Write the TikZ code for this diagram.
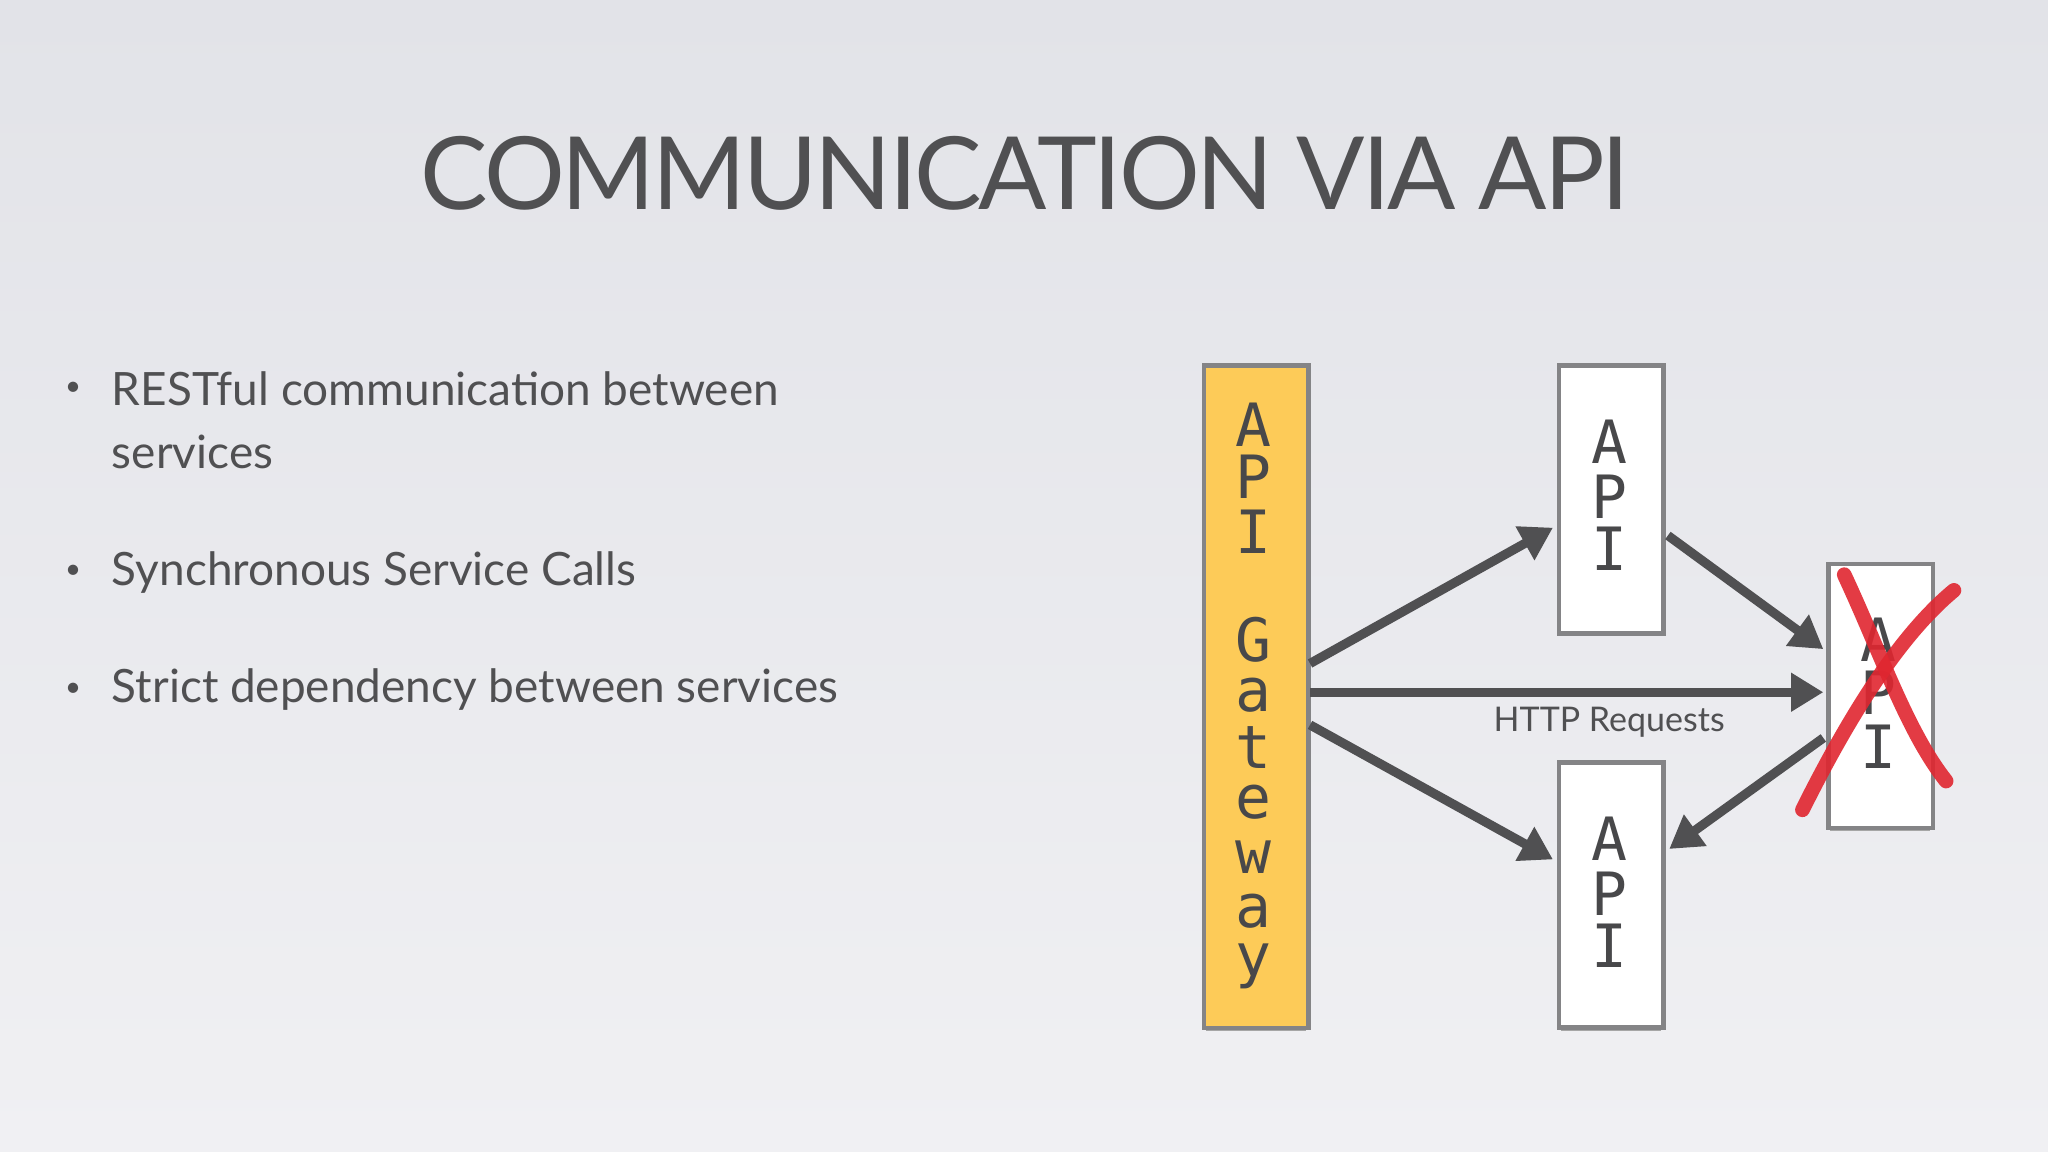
\documentclass[tikz,border=0pt]{standalone}
\usepackage{fontspec}
\setmainfont{Lato}
\setmonofont{DejaVu Sans Mono}
\usetikzlibrary{arrows.meta}
\definecolor{bgA}{HTML}{E2E3E8}
\definecolor{bgB}{HTML}{F0F0F3}
\definecolor{ink}{HTML}{505052}
\definecolor{gold}{HTML}{FDCB58}
\definecolor{xred}{HTML}{E02630}
\tikzset{
  box/.style={draw=ink!70, line width=1pt, minimum width=0.8cm, anchor=north west, inner sep=0pt},
  conn/.style={draw=ink, line width=2pt, -{Triangle[length=7pt,width=8pt]}},
  letters/.style={font=\ttfamily\fontsize{13}{15}\selectfont, text=ink!90!black, align=center, inner sep=0pt},
}
\begin{document}
\begin{tikzpicture}[x=0.01cm,y=-0.01cm]
\shade[top color=bgA, bottom color=bgB] (0,0) rectangle (1568,882);
\useasboundingbox (0,0) rectangle (1568,882);
\node[text=ink, font=\fontsize{22}{26}\selectfont\addfontfeatures{LetterSpace=-3}] (title) at (785,133) {COMMUNICATION VIA API};
\begin{scope}[every node/.style={anchor=west, text=ink, inner sep=0pt, font=\fontsize{10}{14}\selectfont}]
\node (b1) at (85,298) {RESTful communication between};
\node (b1b) at (85,346) {services};
\node (b2) at (85,438) {Synchronous Service Calls};
\node (b3) at (85,528) {Strict dependency between services};
\end{scope}
\begin{scope}[every node/.style={anchor=center, text=ink, inner sep=0pt, font=\fontsize{6}{8}\selectfont}]
\node (d1) at (56,298) {•};
\node (d2) at (56,438) {•};
\node (d3) at (56,528) {•};
\end{scope}
% shadows
\foreach \x/\y/\h in {920/278/507,1192/278/205,1192/582/203,1398/430/202}
  \fill[black!35] (\x+3,\y+\h-2) rectangle (\x+80,\y+\h+4);
\node[box, fill=gold, minimum height=5.07cm] (gw) at (920,278) {};
\node[box, fill=white, minimum height=2.05cm] (api1) at (1192,278) {};
\node[box, fill=white, minimum height=2.03cm] (api2) at (1192,582) {};
\node[box, fill=white, minimum height=2.02cm] (api3) at (1398,430) {};
\foreach \c/\y in {A/325,P/365,I/407,G/490,a/532,t/572,e/614,w/656,a/698,y/740}
  \node[letters] at (960,\y) {\c};
\foreach \c/\y in {A/338,P/380,I/420} \node[letters] at (1232,\y) {\c};
\foreach \c/\y in {A/642,P/684,I/724} \node[letters] at (1232,\y) {\c};
\foreach \c/\y in {A/490,P/530,I/572} \node[letters] at (1438,\y) {\c};
\coordinate (g1) at (1003,508); \coordinate (g2) at (1003,530); \coordinate (g3) at (1003,555);
\coordinate (a1in) at (1189,404); \coordinate (a1out) at (1277,410);
\coordinate (a3in1) at (1396,497); \coordinate (a3in2) at (1396,530); \coordinate (a3out) at (1396,565);
\coordinate (a2in1) at (1189,658); \coordinate (a2in2) at (1278,650);
\draw[conn] (g1) -- (a1in);
\draw[conn] (g2) -- (a3in2);
\draw[conn] (g3) -- (a2in1);
\draw[conn] (a1out) -- (a3in1);
\draw[conn] (a3out) -- (a2in2);
\node[text=ink, font=\fontsize{7.4}{9}\selectfont] (http) at (1232,553) {HTTP Requests};
\draw[xred, line width=3.2pt, line cap=round, opacity=0.9] (1412,440) .. controls (1440,500) and (1460,560) .. (1490,598);
\draw[xred, line width=3.2pt, line cap=round, opacity=0.9] (1496,452) .. controls (1450,490) and (1410,560) .. (1380,620);
\end{tikzpicture}
\end{document}
